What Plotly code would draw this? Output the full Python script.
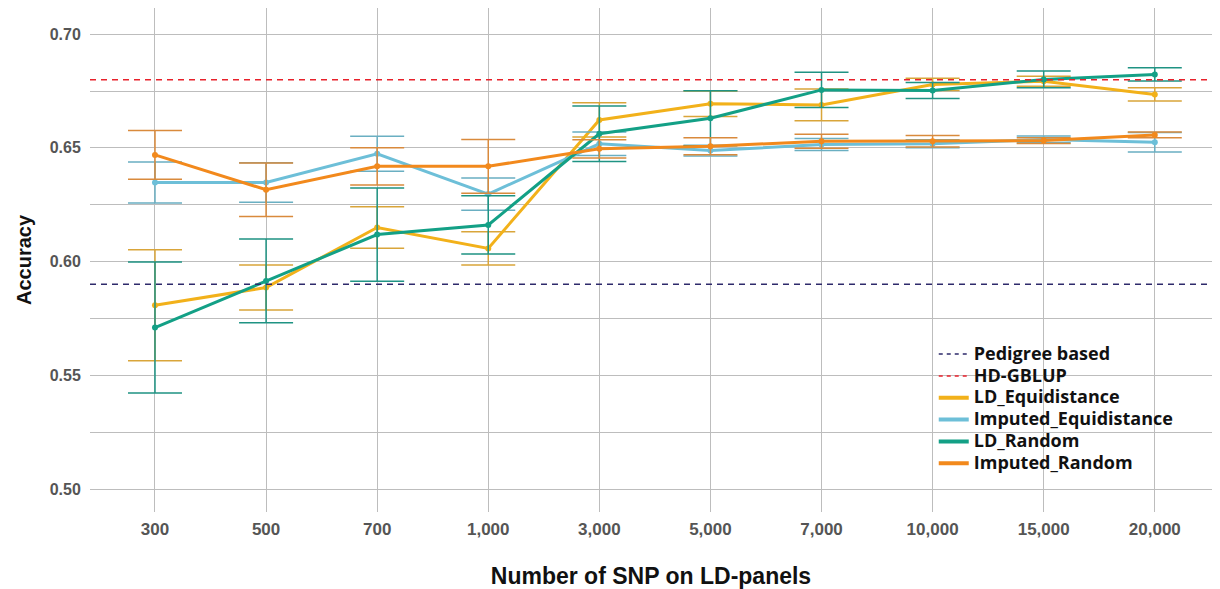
import plotly.graph_objects as go

categories = ["300", "500", "700", "1,000", "3,000", "5,000", "7,000", "10,000", "15,000", "20,000"]

ld_equidistance = [0.5808, 0.5886, 0.6150, 0.6058, 0.6623, 0.6694, 0.6689, 0.6779, 0.6793, 0.6735]
ld_equidistance_err = [0.0244, 0.0099, 0.0091, 0.0073, 0.0075, 0.0056, 0.0070, 0.0027, 0.0022, 0.0029]

imputed_equidistance = [0.6348, 0.6348, 0.6474, 0.6297, 0.6518, 0.6488, 0.6515, 0.6518, 0.6537, 0.6525]
imputed_equidistance_err = [0.0090, 0.0087, 0.0077, 0.0071, 0.0052, 0.0024, 0.0026, 0.0018, 0.0015, 0.0043]

ld_random = [0.5710, 0.5915, 0.6119, 0.6161, 0.6562, 0.6630, 0.6755, 0.6752, 0.6801, 0.6823]
ld_random_err = [0.0288, 0.0184, 0.0205, 0.0128, 0.0122, 0.0121, 0.0077, 0.0035, 0.0037, 0.0029]

imputed_random = [0.6469, 0.6316, 0.6419, 0.6419, 0.6496, 0.6507, 0.6529, 0.6529, 0.6532, 0.6557]
imputed_random_err = [0.0107, 0.0118, 0.0082, 0.0118, 0.0040, 0.0037, 0.0031, 0.0025, 0.0013, 0.0013]

pedigree_based = 0.59
hd_gblup = 0.68

series = [
    ("LD_Equidistance", ld_equidistance, ld_equidistance_err, "#F2B11A", "#D9A53A", 3),
    ("Imputed_Equidistance", imputed_equidistance, imputed_equidistance_err, "#6DBFD8", "#6AAFC2", 4),
    ("LD_Random", ld_random, ld_random_err, "#13A086", "#1F9383", 5),
    ("Imputed_Random", imputed_random, imputed_random_err, "#F2891C", "#D98A3C", 6),
]


def legend_label(text):
    return '<span style="font-size:18px">' + text + '</span>'


fig = go.Figure()

# legend-only entries for reference lines
fig.add_trace(go.Scatter(x=[None], y=[None], mode="lines", name=legend_label("Pedigree based"),
                         line=dict(color="#2E2A6B", width=1.5, dash="4px,4px"), legendrank=1))
fig.add_trace(go.Scatter(x=[None], y=[None], mode="lines", name=legend_label("HD-GBLUP"),
                         line=dict(color="#E8212B", width=1.5, dash="4px,4px"), legendrank=2))

for name, vals, errs, col, ecol, rank in series:
    fig.add_trace(go.Scatter(
        x=categories, y=vals, mode="lines+markers", name=name, showlegend=False,
        line=dict(color=col, width=3),
        marker=dict(color=col, size=6),
        error_y=dict(type="data", array=errs, visible=True, color=ecol, thickness=1.5, width=27),
    ))
    fig.add_trace(go.Scatter(x=[None], y=[None], mode="lines", name=legend_label(name),
                             line=dict(color=col, width=4), legendrank=rank))

fig.add_shape(type="line", xref="x domain", yref="y", x0=0, x1=1, y0=pedigree_based, y1=pedigree_based,
              line=dict(color="#2E2A6B", width=1.5, dash="6px,5px"), layer="above")
fig.add_shape(type="line", xref="x domain", yref="y", x0=0, x1=1, y0=hd_gblup, y1=hd_gblup,
              line=dict(color="#E8212B", width=1.5, dash="6px,5px"), layer="above")

fig.update_layout(
    width=1220, height=589,
    margin=dict(l=90, r=8, t=8, b=77),
    paper_bgcolor="white", plot_bgcolor="white",
    showlegend=True,
    legend=dict(x=0.752, y=0.345, xanchor="left", yanchor="top",
                bgcolor="rgba(0,0,0,0)", borderwidth=0,
                font=dict(family="Open Sans", size=14.5, color="#111111", weight="bold"),
                tracegroupgap=0, itemwidth=30),
    xaxis=dict(
        type="category", range=[-0.585, 9.515], automargin=False,
        showgrid=True, gridcolor="#BDBDBD", gridwidth=1.3,
        zeroline=False, showline=False,
        ticks="outside", ticklen=2, tickcolor="rgba(0,0,0,0)",
        tickfont=dict(family="Liberation Sans", size=17, color="#555555", weight="bold"),
        title=dict(text="Number of SNP on LD-panels", standoff=32,
                   font=dict(family="Liberation Sans", size=23, color="#111111", weight="bold")),
    ),
    yaxis=dict(
        range=[0.4899, 0.7115], automargin=False,
        tickvals=[0.50, 0.55, 0.60, 0.65, 0.70],
        ticktext=["0.50", "0.55", "0.60", "0.65", "0.70"],
        showgrid=True, gridcolor="#BDBDBD", gridwidth=1.3,
        minor=dict(tickvals=[0.525, 0.575, 0.625, 0.675], showgrid=True, gridcolor="#BDBDBD", gridwidth=1.3),
        zeroline=False, showline=False,
        ticks="outside", ticklen=5, tickcolor="rgba(0,0,0,0)",
        tickfont=dict(family="Liberation Sans", size=16, color="#555555", weight="bold"),
        title=dict(text="Accuracy", standoff=12,
                   font=dict(family="Liberation Sans", size=20, color="#111111", weight="bold")),
    ),
)

fig.write_html("out.html", config={"displayModeBar": False},
               post_script="document.body.style.margin='0';document.body.style.overflow='hidden';")
